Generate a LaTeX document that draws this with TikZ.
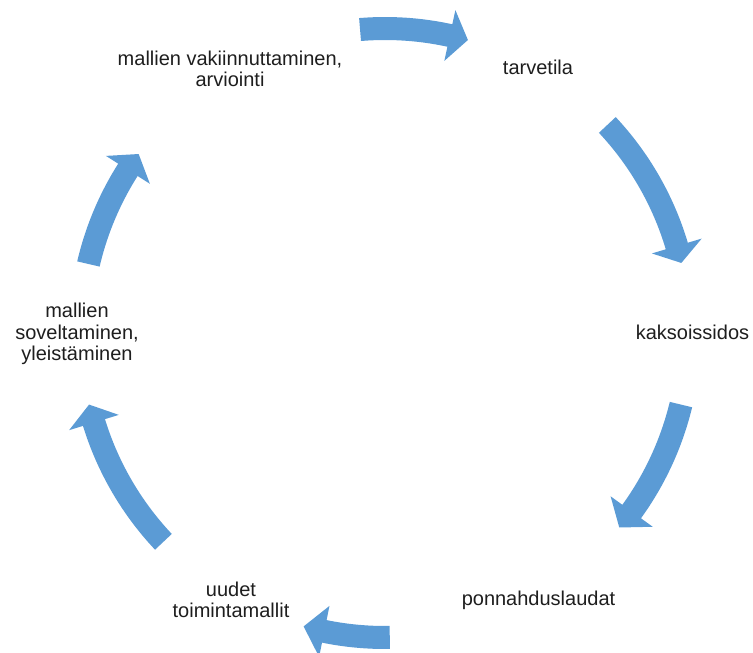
\documentclass[tikz,border=0pt]{standalone}
\usepackage{fontspec}
\setmainfont{Liberation Sans}
\usetikzlibrary{calc}
\definecolor{arrowblue}{HTML}{5B9BD5}
\definecolor{txt}{HTML}{1E1E1E}
\newcommand{\cyclearrow}[3]{% tail angle, head base angle, tip angle
  \fill[cyclearrowstyle]
    ([shift={(#1:316pt)}]C) arc[start angle=#1, end angle=#2, radius=316pt]
    -- ([shift={(#2:330.5pt)}]C)
    -- ([shift={(#3:304.5pt)}]C)
    -- ([shift={(#2:278.5pt)}]C)
    -- ([shift={(#2:293pt)}]C) arc[start angle=#2, end angle=#1, radius=293pt]
    -- cycle;}
\begin{document}
\begin{tikzpicture}[x=1pt,y=1pt,
  cyclearrowstyle/.style={fill=arrowblue},
  lbl/.style={anchor=base, align=center, inner sep=0pt, text=txt,
              font=\fontsize{20}{21.5}\selectfont}]
\useasboundingbox (0,0) rectangle (753,653);
\coordinate (C) at (385,320);
% arrows
\cyclearrow{94.7}{77.7}{74.2}
\cyclearrow{43.1}{16.6}{13.3}
\cyclearrow{-13.6}{-35.9}{-39.7}
\cyclearrow{-89.1}{-101.5}{-105.5}
\cyclearrow{-136.7}{-162.9}{-166.4}
\cyclearrow{166.9}{147.6}{144.0}
% labels (base anchor = baseline of the last line)
\node[lbl] (vak) at (230,566) {mallien vakiinnuttaminen,\\arviointi};
\node[lbl] (tarve) at (538,578) {tarvetila};
\node[lbl] (kaks) at (692.5,313) {kaksoissidos};
\node[lbl] (ponn) at (538.5,47) {ponnahduslaudat};
\node[lbl] (uudet) at (231,35) {uudet\\toimintamallit};
\node[lbl] (sovel) at (77,292) {mallien\\soveltaminen,\\yleistäminen};
\end{tikzpicture}
\end{document}
